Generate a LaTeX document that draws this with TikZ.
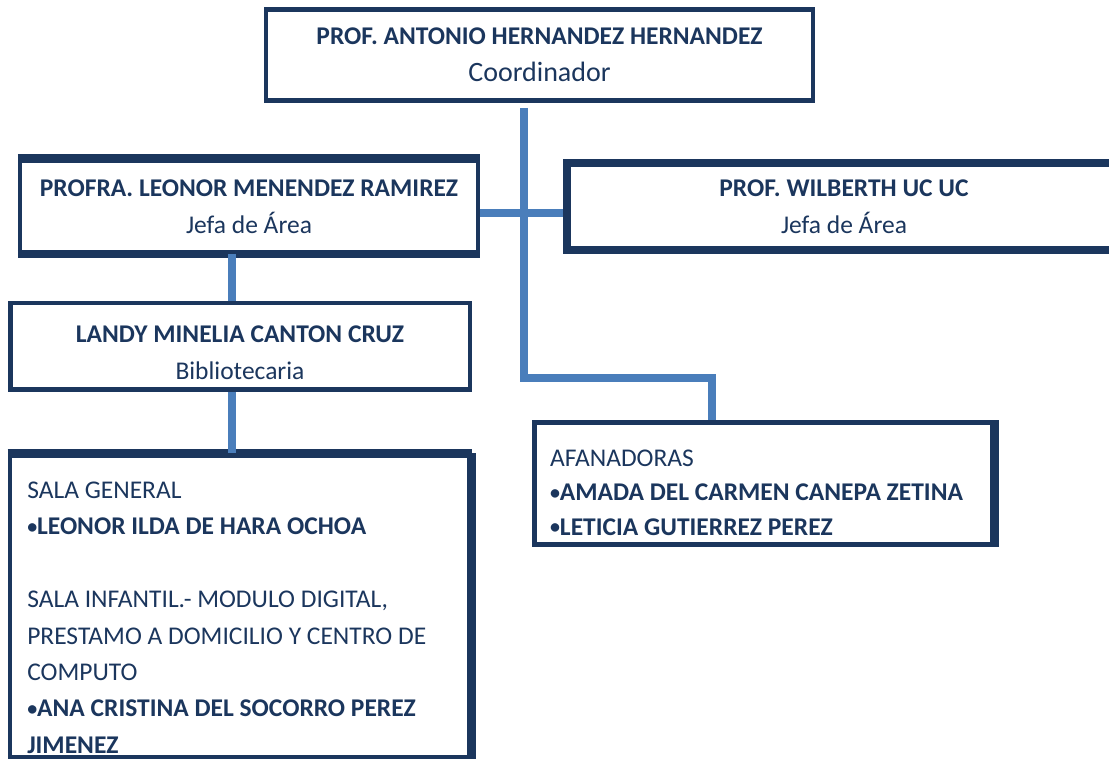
\documentclass[tikz,border=0pt]{standalone}
\usepackage{fontspec}
\setmainfont{Carlito}
\usepackage{tikz}
\usetikzlibrary{calc}
\definecolor{boxnavy}{RGB}{27,54,93}
\definecolor{linkblue}{RGB}{74,126,187}
\tikzset{
  box/.style={draw=boxnavy, line width=4.5pt, rectangle, inner sep=0pt,
    text=boxnavy, align=center, font=\fontsize{25.5}{37}\selectfont},
  listbox/.style={box, align=left,
    execute at begin node={\spaceskip=0pt\xspaceskip=0pt\relax}},
  heavy/.style={draw=boxnavy, line width=8.5pt},
  link/.style={draw=linkblue, line width=8pt},
}
\newcommand{\nm}[1]{\textbf{#1}}
\newcommand{\bul}{\raisebox{1.5pt}{\fontsize{20}{20}\selectfont•}}
\begin{document}
\begin{tikzpicture}[x=1pt,y=-1pt]
    \useasboundingbox (0,0) rectangle (1109,759);
    % Coordinador
    \node[box, minimum width=547pt, minimum height=91pt] (coord) at (539.5,55)
        {\nm{PROF. ANTONIO HERNANDEZ HERNANDEZ}\\{\fontsize{28}{37}\selectfont Coordinador}};
    % Jefas de area
    \node[box, minimum width=458pt, minimum height=91pt] (leonor) at (249,206.5)
        {\nm{PROFRA. LEONOR MENENDEZ RAMIREZ}\\Jefa de Área};
    \node[box, line width=8.5pt, minimum width=554pt, minimum height=87pt] (wilberth) at (844,206.5)
        {\nm{PROF. WILBERTH UC UC}\\Jefa de Área};
    \draw[heavy] (leonor.north west) -- (leonor.north east);
    \draw[heavy] (leonor.south west) -- (leonor.south east);
    % Bibliotecaria
    \node[box, minimum width=459.5pt, minimum height=86.5pt] (landy) at (240,346.5)
        {\rule{0pt}{30pt}\nm{LANDY MINELIA CANTON CRUZ}\\Bibliotecaria};
    % Salas
    \node[listbox, font=\fontsize{25.5}{36.4}\selectfont, minimum width=459.5pt,
        minimum height=301.5pt, text width=424.5pt] (sala) at (239.5,606)
        {\rule{0pt}{40pt}SALA GENERAL\\
         \nm{\bul LEONOR ILDA DE HARA OCHOA}\\[36.4pt]
         SALA INFANTIL.- MODULO DIGITAL,\\
         PRESTAMO A DOMICILIO Y CENTRO DE\\
         COMPUTO\\
         \nm{\bul ANA CRISTINA DEL SOCORRO PEREZ}\\
         \nm{JIMENEZ}};
    \draw[heavy] (sala.north west) -- (sala.north east);
    \draw[heavy] (sala.north east) -- (sala.south east);
    % Afanadoras
    \node[listbox, font=\fontsize{25.5}{34.5}\selectfont, minimum width=458pt,
        minimum height=122pt, text width=427pt] (afan) at (763.5,483.5)
        {\rule{0pt}{35pt}AFANADORAS\\
         \nm{\bul AMADA DEL CARMEN CANEPA ZETINA}\\
         \nm{\bul LETICIA GUTIERREZ PEREZ}};
    \draw[heavy] (afan.north east) -- (afan.south east);
    % Lineas de union
    \coordinate (trunk) at (524,108);
    \coordinate (bend) at (712,378.5);
    \draw[link] (trunk) |- (bend) -- (bend |- afan.north);
    \draw[link] ([yshift=-7pt]leonor.east) -- ([yshift=-7pt]wilberth.west);
    \draw[link] ([xshift=-17pt]leonor.south) -- ([xshift=-17pt]leonor.south |- landy.north);
    \draw[link] ([xshift=-8pt]landy.south) -- ([xshift=-8pt]landy.south |- sala.north);
\end{tikzpicture}
\end{document}
